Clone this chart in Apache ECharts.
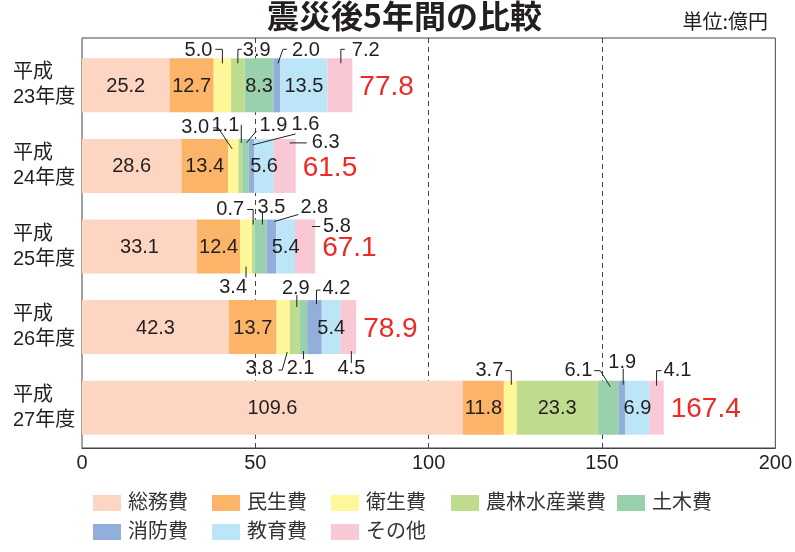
<!DOCTYPE html>
<html><head><meta charset="utf-8">
<script src="https://cdn.jsdelivr.net/npm/echarts@6/dist/echarts.min.js"></script>
<style>html,body{margin:0;padding:0;background:#fff}#c{width:795px;height:552px}</style>
</head><body><div id="c"></div>
<script>
// ---- data ----
const categories = ['平成\n23年度', '平成\n24年度', '平成\n25年度', '平成\n26年度', '平成\n27年度'];
const seriesNames = ['総務費', '民生費', '衛生費', '農林水産業費', '土木費', '消防費', '教育費', 'その他'];
const soumu  = [25.2, 28.6, 33.1, 42.3, 109.6];
const minsei = [12.7, 13.4, 12.4, 13.7, 11.8];
const eisei  = [5.0, 3.0, 3.4, 3.8, 3.7];
const nourin = [3.9, 1.1, 0.7, 2.9, 23.3];
const doboku = [8.3, 1.9, 3.5, 2.1, 6.1];
const shobo  = [2.0, 1.6, 2.8, 4.2, 1.9];
const kyoiku = [13.5, 5.6, 5.4, 5.4, 6.9];
const sonota = [7.2, 6.3, 5.8, 4.5, 4.1];
const totals = [77.8, 61.5, 67.1, 78.9, 167.4];
const xTicks = [0, 50, 100, 150, 200];
const values = [soumu, minsei, eisei, nourin, doboku, shobo, kyoiku, sonota];

// ---- styling / layout ----
const FONT = "'Liberation Sans','Noto Sans CJK JP',sans-serif";
const INK = '#231f20';
const colors = ['#fcd5c3', '#fbb468', '#fff799', '#bfdc8e', '#99d1ac', '#92afdb', '#bde5f8', '#f8c9d4'];
const BAR_H = 54;
// small values labelled outside the bar (row, segment, side, leader path offsets, text offset)
const outside = [
  {r:0,s:2,side:'t',path:[[0,5],[0,-9],[-7,-9]],tx:-10,ty:-8,align:'right'},
  {r:0,s:3,side:'t',path:[[0,5],[0,-9],[4,-9]],tx:5,ty:-8,align:'left'},
  {r:0,s:5,side:'t',path:[[1,5],[6,-9],[10,-9]],tx:15,ty:-8,align:'left'},
  {r:0,s:7,side:'t',path:[[1,5],[1,-9],[5,-9]],tx:12,ty:-8,align:'left'},
  {r:1,s:2,side:'t',path:[[-1,10],[-15,-11],[-20,-11]],tx:-24,ty:-11,align:'right'},
  {r:1,s:3,side:'t',path:[[1,4],[1,-14]],tx:-1,ty:-13,align:'right'},
  {r:1,s:4,side:'t',path:[[1,4],[11,-8]],tx:14,ty:-13,align:'left'},
  {r:1,s:5,side:'t',path:[[1,6],[44,-5]],tx:40,ty:-14,align:'left'},
  {r:1,s:7,side:'t',path:[[5,4],[22,4]],tx:27,ty:4,align:'left'},
  {r:2,s:2,side:'b',path:[[0,-7],[0,4]],tx:1,ty:14,align:'right'},
  {r:2,s:3,side:'t',path:[[0,5],[0,-10],[-6,-10]],tx:-9,ty:-10,align:'right'},
  {r:2,s:4,side:'t',path:[[2,5],[2,-7]],tx:11,ty:-12,align:'center'},
  {r:2,s:5,side:'t',path:[[3,2],[27,-5]],tx:29,ty:-12,align:'left'},
  {r:2,s:7,side:'t',path:[[7,7],[15,7]],tx:18,ty:7,align:'left'},
  {r:3,s:2,side:'b',path:[[4,-2],[-1,16],[-5,16]],tx:-10,ty:14,align:'right'},
  {r:3,s:3,side:'t',path:[[2,7],[2,-5]],tx:1,ty:-12,align:'center'},
  {r:3,s:4,side:'b',path:[[0,-3],[0,5]],tx:-3,ty:14,align:'center'},
  {r:3,s:5,side:'t',path:[[2,4],[2,-10],[6,-10]],tx:8,ty:-12,align:'left'},
  {r:3,s:7,side:'b',path:[[3,-3],[3,9]],tx:3,ty:14,align:'center'},
  {r:4,s:2,side:'t',path:[[1,4],[1,-10],[-5,-10]],tx:-7,ty:-10,align:'right'},
  {r:4,s:4,side:'t',path:[[2,6],[-8,-10],[-14,-10]],tx:-16,ty:-10,align:'right'},
  {r:4,s:5,side:'t',path:[[1,4],[1,-12]],tx:0,ty:-18,align:'center'},
  {r:4,s:7,side:'t',path:[[0,5],[0,-10],[5,-10]],tx:7,ty:-10,align:'left'}
];
const isOutside = (r, s) => outside.some(o => o.r === r && o.s === s);
const segStart = (r, s) => { let t = 0; for (let k = 0; k < s; k++) t += values[k][r]; return t; };
const legendPos = [[93,493],[212,493],[331,493],[451,493],[617,493],[93,522],[212,522],[331,522]];

const barSeries = seriesNames.map((name, k) => {
  const isLast = k === values.length - 1;
  return {
    name, type: 'bar', stack: 'all', xAxisIndex: 1, yAxisIndex: 1,
    barWidth: BAR_H, itemStyle: {color: colors[k]},
    label: isLast ? {
      show: true, position: 'right', distance: 7, offset: [0, 2],
      formatter: p => totals[p.dataIndex].toFixed(1),
      color: '#ee2a24', fontSize: 28, fontFamily: FONT
    } : {
      show: true, position: 'inside', color: INK, fontSize: 20, fontFamily: FONT, offset: [0, 1],
      formatter: p => p.value.toFixed(1)
    },
    data: values[k].map((v, r) => (isLast ? v : {value: v, label: {show: !isOutside(r, k)}}))
  };
});

const leaderSeries = {
  type: 'custom', xAxisIndex: 1, yAxisIndex: 1, clip: false, z: 5, silent: true,
  encode: {x: 0, y: 1},
  data: outside.map(o => [segStart(o.r, o.s) + values[o.s][o.r] / 2, o.r]),
  renderItem: function (params, api) {
    const o = outside[params.dataIndex];
    const p = api.coord([api.value(0), api.value(1)]);
    const x0 = p[0];
    const y0 = o.side === 't' ? p[1] - BAR_H / 2 : p[1] + BAR_H / 2;
    return {
      type: 'group',
      children: [
        {type: 'polyline', shape: {points: o.path.map(d => [x0 + d[0], y0 + d[1]])},
         style: {stroke: INK, lineWidth: 1, fill: null}},
        {type: 'text', x: x0 + o.tx, y: y0 + o.ty,
         style: {text: values[o.s][o.r].toFixed(1), fill: INK, font: '20px ' + FONT,
                 align: o.align, verticalAlign: 'middle'}}
      ]
    };
  }
};

const chart = echarts.init(document.getElementById('c'), null, {renderer: 'canvas'});
chart.setOption({
  backgroundColor: '#fff',
  animation: false,
  title: [
    {text: '震災後5年間の比較', left: 267, top: 0, padding: 0,
     textStyle: {fontSize: 32, fontWeight: 'bold', color: INK, fontFamily: "'Noto Sans CJK JP',sans-serif"}},
    {text: '単位:億円', right: 27, top: 11, padding: 0,
     textStyle: {fontSize: 20, fontWeight: 'normal', color: INK, fontFamily: "'Noto Sans CJK JP',sans-serif"}}
  ],
  legend: seriesNames.map((name, k) => ({
    data: [name], left: legendPos[k][0], top: legendPos[k][1], padding: 0,
    icon: 'rect', itemWidth: 28, itemHeight: 16, selectedMode: false,
    textStyle: {fontSize: 20, color: '#333', fontFamily: FONT, padding: [0, 0, 0, 2]}
  })),
  grid: [
    {left: 82, right: 18, top: 38, bottom: 104, show: true, borderColor: '#444', borderWidth: 1},
    {left: 82, right: 18, top: 45, bottom: 104}
  ],
  xAxis: [
    {type: 'value', gridIndex: 0, min: xTicks[0], max: xTicks[xTicks.length - 1], interval: xTicks[1] - xTicks[0],
     axisLine: {show: true, lineStyle: {color: '#444'}}, axisTick: {show: false},
     axisLabel: {fontSize: 20, color: INK, fontFamily: FONT, margin: 5},
     splitLine: {show: true, showMinLine: false, showMaxLine: false, lineStyle: {type: [5, 4], color: '#444'}}},
    {type: 'value', gridIndex: 1, min: xTicks[0], max: xTicks[xTicks.length - 1], show: false}
  ],
  yAxis: [
    {type: 'value', gridIndex: 0, show: false},
    {type: 'category', gridIndex: 1, data: categories, inverse: true,
     axisLine: {show: false}, axisTick: {show: false},
     axisLabel: {align: 'left', margin: 69, fontSize: 20, lineHeight: 25, color: INK, fontFamily: FONT}}
  ],
  series: [...barSeries, leaderSeries]
});
</script>
</body></html>
